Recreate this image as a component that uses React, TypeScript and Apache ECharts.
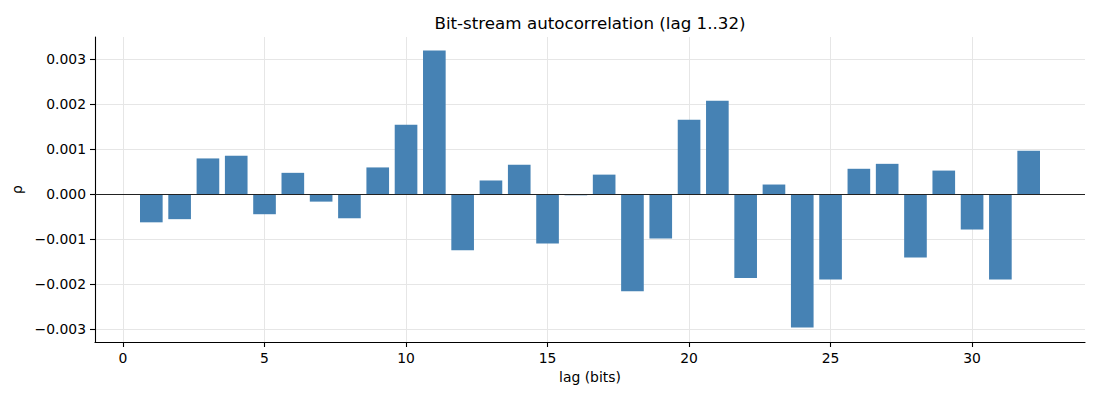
import React, { useEffect, useRef } from "react";
import * as echarts from "echarts";

const lags = [1, 2, 3, 4, 5, 6, 7, 8, 9, 10, 11, 12, 13, 14, 15, 16, 17, 18, 19, 20, 21, 22, 23, 24, 25, 26, 27, 28, 29, 30, 31, 32];
const rho = [
  -0.00063, -0.00056, 0.00079, 0.00085, -0.00045, 0.00047, -0.00017, -0.00054,
  0.00059, 0.00154, 0.00319, -0.00125, 0.0003, 0.00065, -0.0011, -0.00003,
  0.00043, -0.00216, -0.00099, 0.00165, 0.00207, -0.00187, 0.00021, -0.00297,
  -0.0019, 0.00056, 0.00067, -0.00141, 0.00052, -0.00079, -0.0019, 0.00096,
];
const xTicks = [0, 5, 10, 15, 20, 25, 30];
const yTicks = [-0.003, -0.002, -0.001, 0, 0.001, 0.002, 0.003];

const FONT = "DejaVu Sans";

export default function App() {
  const ref = useRef<HTMLDivElement>(null);
  useEffect(() => {
    if (!ref.current) return;
    const chart = echarts.init(ref.current, undefined, { renderer: "svg" });
    const fmtY = (v: number) => {
      const s = Math.abs(v).toFixed(3);
      return (v < -1e-12 ? "\u2212" : "") + s;
    };
    chart.setOption({
      animation: false,
      backgroundColor: "#ffffff",
      title: {
        text: "Bit-stream autocorrelation (lag 1..32)",
        left: 590,
        top: 14,
        padding: 0,
        textAlign: "center",
        textStyle: { fontFamily: FONT, fontSize: 16.7, fontWeight: "normal", color: "#000" },
      },
      grid: { left: 95, right: 15, top: 37, bottom: 58, containLabel: false },
      xAxis: {
        type: "value",
        min: -0.99,
        max: 33.99,
        splitNumber: 7,
        name: "lag (bits)",
        nameLocation: "middle",
        nameGap: 27,
        nameTextStyle: { fontFamily: FONT, fontSize: 13.9, color: "#000" },
        axisLine: { onZero: false, lineStyle: { color: "#000", width: 1.1 } },
        axisTick: { show: true, length: 5, lineStyle: { color: "#000", width: 1.1 }, customValues: xTicks },
        axisLabel: {
          margin: 9,
          fontFamily: FONT,
          fontSize: 13.9,
          color: "#000",
          customValues: xTicks,
        },
        splitLine: { show: true, lineStyle: { color: "#e6e6e6", width: 1 } },
      },
      yAxis: {
        type: "value",
        min: -0.00329,
        max: 0.003489,
        splitNumber: 7,
        name: "ρ",
        nameLocation: "middle",
        nameGap: 67,
        nameTextStyle: { fontFamily: FONT, fontSize: 13.9, color: "#000" },
        axisLine: { show: true, onZero: false, lineStyle: { color: "#000", width: 1.1 } },
        axisTick: { show: true, length: 5, lineStyle: { color: "#000", width: 1.1 }, customValues: yTicks },
        axisLabel: {
          margin: 9,
          fontFamily: FONT,
          fontSize: 13.9,
          color: "#000",
          customValues: yTicks,
          formatter: fmtY,
        },
        splitLine: { show: true, lineStyle: { color: "#e6e6e6", width: 1 } },
      },
      series: [
        {
          type: "custom",
          data: lags.map((l, i) => [l, rho[i]]),
          encode: { x: 0, y: 1 },
          renderItem: (params: any, api: any) => {
            const x = api.value(0);
            const y = api.value(1);
            const p0 = api.coord([x - 0.4, 0]);
            const p1 = api.coord([x + 0.4, y]);
            return {
              type: "rect",
              shape: {
                x: p0[0],
                y: Math.min(p0[1], p1[1]),
                width: p1[0] - p0[0],
                height: Math.abs(p1[1] - p0[1]),
              },
              style: { fill: "#4682b4" },
            };
          },
          markLine: {
            silent: true,
            symbol: "none",
            label: { show: false },
            lineStyle: { color: "#222", width: 1.1, type: "solid" },
            data: [{ yAxis: 0 }],
            z: 10,
          },
          z: 2,
        },
      ],
    });
    return () => chart.dispose();
  }, []);
  return (
    <div
      ref={ref}
      style={{ position: "fixed", left: 0, top: 0, width: 1100, height: 400 }}
    />
  );
}
